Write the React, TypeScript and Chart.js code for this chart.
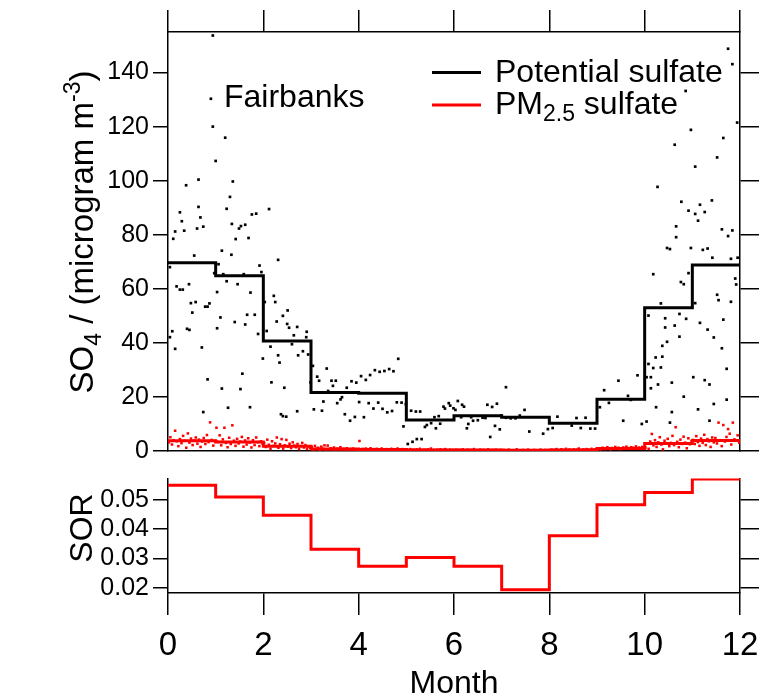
import React, { useEffect, useRef } from "react";
import { Chart, registerables } from "chart.js";

Chart.register(...registerables);

const FONT = "'Liberation Sans', Arial, Helvetica, sans-serif";

// ---------- data ----------
const monthEdges = [0, 1, 2, 3, 4, 5, 6, 7, 8, 9, 10, 11, 12];
const xTickValues = [0, 2, 4, 6, 8, 10, 12];
const so4TickValues = [0, 20, 40, 60, 80, 100, 120, 140];
const sorTickValues = [0.02, 0.03, 0.04, 0.05];

// monthly means (step lines)
const potentialMonthly = [69.6, 64.8, 40.7, 21.6, 21.4, 11.5, 13.0, 12.5, 10.3, 19.1, 53.0, 68.8];
const pmMonthly = [3.8, 3.3, 1.8, 0.73, 0.6, 0.36, 0.36, 0.25, 0.4, 0.94, 2.8, 3.9];
const sorMonthly = [0.0549, 0.0509, 0.0447, 0.0331, 0.0273, 0.0303, 0.0273, 0.0193, 0.0377, 0.0483, 0.0524, 0.057];

// daily potential sulfate [month, value]
const potentialJanMar = [
  [0.94,153.7],[0.90,130.3],[0.94,120.0],[1.20,115.9],[1.00,107.3],[0.38,98.3],[0.64,100.4],[1.36,99.7],[1.30,94.0],[0.25,88.3],
  [0.64,90.3],[1.23,89.6],[2.12,89.5],[1.76,87.5],[1.85,87.8],[0.29,85.0],[0.68,86.4],[0.15,81.2],[0.34,81.5],[0.61,82.3],
  [0.74,83.0],[1.34,84.0],[1.49,82.3],[1.53,83.2],[1.62,83.7],[0.11,78.5],[1.42,78.4],[1.69,78.8],[0.55,72.3],[1.13,74.1],
  [1.33,72.6],[2.31,70.7],[0.04,68.0],[1.06,69.1],[0.97,65.8],[1.16,65.4],[1.59,65.4],[1.92,68.6],[1.96,66.2],[1.23,62.8],
  [1.46,61.7],[0.44,61.7],[0.18,60.9],[0.25,59.7],[0.31,59.7],[1.03,58.8],[1.73,58.6],[0.48,54.7],[0.58,55.1],[0.87,54.6],
  [0.83,53.4],[0.78,53.4],[2.03,55.1],[2.22,57.4],[2.25,55.1],[0.51,51.2],[1.10,49.4],[1.66,50.4],[1.82,50.4],[1.40,47.7],
  [1.62,46.8],[2.41,50.0],[2.51,52.0],[2.28,47.9],[2.50,47.0],[2.54,45.6],[2.71,45.9],[0.09,44.3],[0.04,42.1],[0.40,45.2],
  [0.45,44.8],[1.03,45.4],[1.89,43.3],[2.07,44.4],[2.64,42.8],[2.91,44.1],[2.90,42.1],[0.15,37.8],[0.71,38.3],[2.15,38.6],
  [2.60,39.5],[2.83,36.9],[2.73,35.4],[2.94,35.7],[2.31,35.4],[1.99,34.2],[2.34,32.7],[1.56,28.6],[0.83,26.5],[2.17,25.4],
  [2.99,25.4],[1.13,23.1],[1.52,22.9],[2.44,23.4],[1.26,16.0],[1.72,16.2],[0.74,14.4],[2.71,14.7],[2.37,13.6],[2.41,12.9],
  [2.48,12.7],
];
const potentialAprSep = [
  [3.04,31.5],[3.06,15.4],[3.13,27.5],[3.17,26.0],[3.33,30.5],[3.43,26.0],[3.52,26.0],[3.46,24.1],[3.23,14.9],[3.26,18.3],
  [3.36,22.2],[3.55,17.7],[3.62,19.1],[3.65,19.9],[3.71,13.6],[3.82,11.2],[3.92,12.6],[3.75,23.4],[3.85,25.8],[3.95,25.3],
  [4.05,27.7],[4.15,26.3],[4.24,28.1],[4.34,29.9],[4.44,29.3],[4.54,29.6],[4.64,30.3],[4.73,29.5],[4.83,34.1],[4.01,18.1],
  [4.11,12.5],[4.21,17.7],[4.31,15.7],[4.41,17.9],[4.50,15.6],[4.60,14.3],[4.70,14.8],[4.80,18.0],[4.90,17.9],[4.99,17.3],
  [4.94,9.1],[5.03,2.6],[5.13,3.4],[5.22,4.4],[5.32,4.4],[5.10,14.9],[5.20,14.6],[5.29,14.6],[5.39,8.9],[5.43,9.6],
  [5.52,10.3],[5.62,8.4],[5.59,12.5],[5.68,12.9],[5.71,10.1],[5.78,16.4],[5.81,15.7],[5.89,17.7],[5.92,16.8],[5.99,15.8],
  [6.03,15.2],[6.08,18.5],[6.17,17.1],[6.21,16.4],[6.15,12.5],[6.30,10.0],[6.27,8.4],[6.36,12.5],[6.40,11.2],[6.50,11.4],
  [6.60,12.3],[6.66,12.2],[6.70,17.1],[6.80,16.3],[6.90,17.5],[6.76,5.2],[6.86,9.3],[6.96,8.0],[7.09,23.6],[6.99,13.1],
  [7.09,12.3],[7.19,12.1],[7.29,12.1],[7.38,13.1],[7.48,15.2],[7.58,7.2],[7.87,6.4],[7.97,8.1],[8.07,8.5],[8.17,12.7],
  [8.47,9.4],[8.57,12.2],[8.66,8.5],[8.76,12.3],[8.86,8.3],[8.96,8.3],
];
const potentialOctDec = [
  [9.06,16.2],[9.15,22.5],[9.25,17.8],[9.45,26.0],[9.55,11.2],[9.65,20.4],[9.71,18.9],[9.85,28.0],[9.94,10.0],[10.04,10.9],
  [10.04,27.3],[10.13,27.3],[10.13,23.2],[10.08,32.2],[10.18,30.7],[10.08,50.1],[10.18,65.4],[10.23,34.6],[10.37,38.9],[10.37,34.9],
  [10.34,54.6],[10.34,30.9],[10.28,24.6],[10.24,16.2],[10.43,49.1],[10.43,45.7],[10.47,40.4],[10.47,75.1],[10.53,74.7],[10.57,25.3],
  [10.57,14.4],[10.53,10.5],[10.63,46.4],[10.73,50.7],[10.73,42.3],[10.87,48.9],[10.76,62.5],[10.82,61.7],[10.92,65.8],[10.97,75.1],
  [10.82,20.1],[11.02,27.3],[11.12,15.4],[11.06,54.7],[11.16,47.4],[11.22,74.4],[11.32,74.9],[11.42,71.5],[11.26,26.2],[11.36,24.6],
  [11.32,44.9],[11.45,42.0],[11.36,11.2],[11.45,17.4],[11.52,57.8],[11.55,55.8],[11.65,48.6],[11.62,38.0],[11.72,30.4],[11.72,19.0],
  [11.81,71.1],[11.95,71.5],[11.81,55.2],[11.90,63.8],[11.92,61.6],[11.75,148.8],[11.84,143.1],[10.86,133.2],[11.94,121.5],[10.97,118.8],
  [11.65,115.8],[10.63,113.3],[11.52,108.6],[11.06,105.2],[10.27,97.7],[10.77,92.2],[11.41,92.7],[11.16,91.1],[10.92,88.9],[11.06,87.7],
  [11.26,88.4],[11.12,85.2],[10.66,83.1],[10.66,79.1],[11.62,82.0],[11.75,79.5],[11.84,81.6],
];

// daily PM2.5 sulfate, ~30 samples per month
const pmJan = [3.2,5.1,2.4,4.0,7.5,3.6,1.8,4.4,2.9,5.6,3.8,1.2,6.5,3.1,4.6,2.2,3.9,5.0,2.7,4.2,1.5,3.5,4.8,2.6,5.9,3.3,10.6,4.1,2.0,3.7];
const pmFeb = [8.6,3.4,5.8,2.1,4.3,8.6,3.0,1.4,4.9,2.6,9.5,3.8,1.9,4.5,2.8,3.5,5.2,1.6,3.9,2.4,4.7,3.1,1.3,4.0,2.2,5.0,3.3,1.8,3.6,2.7];
const pmMar = [3.0,1.5,4.2,2.3,0.8,3.6,1.9,2.8,5.0,1.2,2.5,4.4,0.9,2.1,4.1,1.6,2.7,1.1,3.2,2.0,1.4,2.6,0.7,1.8,3.0,1.3,2.2,0.8,1.7,1.2];
const pmApr = [1.5,0.6,1.9,0.9,1.2,0.4,1.6,0.8,2.1,0.5,2.0,0.7,1.0,0.6,1.3,0.4,0.9,0.6,1.4,0.3,0.8,0.5,1.0,0.4,0.7,0.5,0.9,0.3,0.6,0.5];
const pmMay = [3.7,0.5,0.8,0.4,0.9,0.6,0.3,1.0,0.5,0.7,0.4,0.8,0.6,0.3,0.9,0.5,0.4,0.7,0.6,0.3,0.8,0.5,0.4,0.6,0.9,0.3,0.5,0.7,0.4,0.6];
const pmJun = [0.4,0.2,0.7,0.3,0.5,0.1,0.6,0.3,0.8,0.2,0.4,0.5,0.2,0.6,0.3,0.9,0.2,0.4,0.1,0.5,0.3,0.6,0.2,0.4,0.7,0.3,0.1,0.5,0.3,0.4];
const pmJul = [0.3,0.5,0.1,0.4,0.2,0.6,0.3,0.2,0.5,0.1,0.4,0.3,0.7,0.2,0.3,0.1,0.5,0.2,0.4,0.3,0.1,0.6,0.2,0.3,0.4,0.1,0.5,0.2,0.3,0.4];
const pmAug = [0.2,0.4,0.1,0.3,0.5,0.2,0.1,0.3,0.2,0.6,0.1,0.3,0.2,0.4,0.1,0.2,0.5,0.3,0.1,0.2,0.4,0.2,0.3,0.1,0.5,0.2,0.3,0.4,0.1,0.3];
const pmSep = [0.3,0.5,0.2,0.4,0.7,0.3,0.2,0.6,0.4,0.3,0.8,0.2,0.5,0.4,0.3,0.6,0.2,0.5,0.9,0.3,0.4,0.6,0.2,0.7,0.5,0.3,0.8,0.4,0.6,0.5];
const pmOct = [0.5,0.9,0.6,1.2,0.8,0.7,1.4,1.0,0.6,1.1,0.9,1.5,0.8,1.2,0.7,1.0,1.3,0.9,1.6,1.1,0.8,1.4,1.2,0.9,1.7,1.0,1.3,0.8,1.5,1.1];
const pmNov = [1.2,2.8,0.8,3.5,6.3,2.1,4.0,1.5,3.2,5.1,2.4,0.6,3.8,2.9,4.5,1.8,3.0,5.6,2.2,8.8,3.4,1.4,4.2,2.6,5.3,3.1,1.0,4.7,2.5,3.6];
const pmDec = [4.1,2.6,5.5,3.3,1.9,4.6,3.0,6.0,2.2,4.4,3.6,1.5,5.0,3.2,4.8,2.8,10.5,4.0,1.8,9.6,3.5,5.2,8.1,6.4,2.4,10.5,4.3,3.8,5.8,3.1];
const pmByMonth = [pmJan, pmFeb, pmMar, pmApr, pmMay, pmJun, pmJul, pmAug, pmSep, pmOct, pmNov, pmDec];

// ---------- helpers ----------
const stepPoints = (vals: number[]) =>
  monthEdges.map((m, i) => ({ x: m, y: vals[Math.min(i, vals.length - 1)] }));

const pairPoints = (arr: number[][]) => arr.map(([x, y]) => ({ x, y }));

const pmPoints = () => {
  const out: { x: number; y: number }[] = [];
  pmByMonth.forEach((vals, m) => {
    vals.forEach((v, j) => out.push({ x: m + (j + 0.5) / vals.length, y: v }));
  });
  return out;
};

const tickGrid = (len: number) => ({
  display: true,
  drawOnChartArea: false,
  drawTicks: true,
  tickLength: len,
  color: "#000",
  lineWidth: 1.5,
});
const axisBorder = { display: true, color: "#000", width: 1.5 };
const fixTicks = (vals: number[]) => (s: any) => {
  s.ticks = vals.map((v) => ({ value: v }));
};
const fitBox = (w: number | null, h: number | null) => (s: any) => {
  if (w !== null) s.width = w;
  if (h !== null) s.height = h;
  s.paddingLeft = 0;
  s.paddingRight = 0;
  s.paddingTop = 0;
  s.paddingBottom = 0;
};

type Part = { t: string; size: number; dy: number };
function drawRotated(ctx: CanvasRenderingContext2D, parts: Part[], x: number, yCenter: number) {
  ctx.save();
  ctx.translate(x, yCenter);
  ctx.rotate(-Math.PI / 2);
  ctx.fillStyle = "#000";
  ctx.textBaseline = "alphabetic";
  ctx.textAlign = "left";
  let total = 0;
  parts.forEach((p) => {
    ctx.font = `${p.size}px ${FONT}`;
    total += ctx.measureText(p.t).width;
  });
  let u = -total / 2;
  parts.forEach((p) => {
    ctx.font = `${p.size}px ${FONT}`;
    ctx.fillText(p.t, u, p.dy);
    u += ctx.measureText(p.t).width;
  });
  ctx.restore();
}

function drawParts(ctx: CanvasRenderingContext2D, parts: Part[], x: number, y: number) {
  ctx.save();
  ctx.fillStyle = "#000";
  ctx.textBaseline = "alphabetic";
  ctx.textAlign = "left";
  let u = x;
  parts.forEach((p) => {
    ctx.font = `${p.size}px ${FONT}`;
    ctx.fillText(p.t, u, y + p.dy);
    u += ctx.measureText(p.t).width;
  });
  ctx.restore();
}

const topTextPlugin = {
  id: "topText",
  afterDraw(chart: any) {
    const ctx = chart.ctx as CanvasRenderingContext2D;
    // y-axis title
    drawRotated(
      ctx,
      [
        { t: "SO", size: 33, dy: 0 },
        { t: "4", size: 23, dy: 8 },
        { t: " / (microgram m", size: 33, dy: 0 },
        { t: "-3", size: 23, dy: -13 },
        { t: ")", size: 33, dy: 0 },
      ],
      93,
      232
    );
    // station name
    drawParts(ctx, [{ t: "Fairbanks", size: 32, dy: 0 }], 224, 106.5);
    // legend
    ctx.save();
    ctx.lineWidth = 3;
    ctx.strokeStyle = "#000";
    ctx.beginPath();
    ctx.moveTo(432, 72.5);
    ctx.lineTo(481, 72.5);
    ctx.stroke();
    ctx.strokeStyle = "#ff0000";
    ctx.beginPath();
    ctx.moveTo(432, 105);
    ctx.lineTo(481, 105);
    ctx.stroke();
    ctx.restore();
    drawParts(ctx, [{ t: "Potential sulfate", size: 32, dy: 0 }], 495, 81.5);
    drawParts(
      ctx,
      [
        { t: "PM", size: 32, dy: 0 },
        { t: "2.5", size: 23, dy: 7 },
        { t: " sulfate", size: 32, dy: 0 },
      ],
      495,
      113.5
    );
  },
};

const bottomTextPlugin = {
  id: "bottomText",
  afterDraw(chart: any) {
    const ctx = chart.ctx as CanvasRenderingContext2D;
    drawRotated(ctx, [{ t: "SOR", size: 32, dy: 0 }], 92, 68);
  },
};

export default function App() {
  const topRef = useRef<HTMLCanvasElement | null>(null);
  const botRef = useRef<HTMLCanvasElement | null>(null);

  useEffect(() => {
    Chart.defaults.font.family = FONT;
    Chart.defaults.color = "#000";

    const top = new Chart(topRef.current as HTMLCanvasElement, {
      type: "scatter",
      data: {
        datasets: [
          {
            type: "line",
            label: "Potential sulfate",
            data: stepPoints(potentialMonthly),
            borderColor: "#000",
            borderWidth: 3,
            stepped: "before",
            pointRadius: 0,
            fill: false,
            order: 0,
          } as any,
          {
            type: "line",
            label: "PM2.5 sulfate",
            data: stepPoints(pmMonthly),
            borderColor: "#ff0000",
            borderWidth: 3,
            stepped: "before",
            pointRadius: 0,
            fill: false,
            order: 1,
          } as any,
          {
            label: "PM2.5 daily",
            data: pmPoints(),
            pointStyle: "rect",
            pointRadius: 1.8,
            backgroundColor: "#ff0000",
            borderWidth: 0,
            order: 2,
          },
          {
            label: "Potential daily",
            data: [
              ...pairPoints(potentialJanMar),
              ...pairPoints(potentialAprSep),
              ...pairPoints(potentialOctDec),
            ],
            pointStyle: "rect",
            pointRadius: 1.9,
            backgroundColor: "#000",
            borderWidth: 0,
            order: 3,
          },
        ],
      },
      options: {
        responsive: false,
        animation: false,
        layout: { padding: 0 },
        plugins: { legend: { display: false }, tooltip: { enabled: false } },
        scales: {
          x: {
            type: "linear",
            position: "bottom",
            min: 0,
            max: 12,
            ticks: { display: false },
            grid: { display: false },
            border: axisBorder,
            afterFit: fitBox(null, 9),
          },
          xTop: {
            type: "linear",
            position: "top",
            min: 0,
            max: 12,
            afterBuildTicks: fixTicks(xTickValues),
            ticks: { display: false },
            grid: tickGrid(22),
            border: axisBorder,
            afterFit: fitBox(null, 32),
          },
          y: {
            type: "linear",
            position: "left",
            min: 0,
            max: 155,
            afterBuildTicks: fixTicks(so4TickValues),
            ticks: { font: { size: 25, family: FONT }, color: "#000", padding: 4 },
            grid: tickGrid(15),
            border: axisBorder,
            afterFit: fitBox(168, null),
          },
          yRight: {
            type: "linear",
            position: "right",
            min: 0,
            max: 155,
            afterBuildTicks: fixTicks(so4TickValues),
            ticks: { display: false },
            grid: tickGrid(19),
            border: axisBorder,
            afterFit: fitBox(26, null),
          },
        } as any,
      },
      plugins: [topTextPlugin],
    });

    const bottom = new Chart(botRef.current as HTMLCanvasElement, {
      type: "line",
      data: {
        datasets: [
          {
            label: "SOR",
            data: stepPoints(sorMonthly),
            borderColor: "#ff0000",
            borderWidth: 3,
            stepped: "before",
            pointRadius: 0,
            fill: false,
          } as any,
        ],
      },
      options: {
        responsive: false,
        animation: false,
        layout: { padding: { top: 18.5, left: 0, right: 0, bottom: 0 } },
        plugins: { legend: { display: false }, tooltip: { enabled: false } },
        scales: {
          x: {
            type: "linear",
            position: "bottom",
            min: 0,
            max: 12,
            afterBuildTicks: fixTicks(xTickValues),
            ticks: { font: { size: 33, family: FONT }, color: "#000", padding: 11, maxRotation: 0 },
            grid: tickGrid(22),
            border: axisBorder,
            title: {
              display: true,
              text: "Month",
              font: { size: 32, family: FONT, lineHeight: 0.85 },
              color: "#000",
              padding: { top: 0, bottom: 0 },
            },
            afterFit: fitBox(null, 105),
          },
          y: {
            type: "linear",
            position: "left",
            min: 0.0182,
            max: 0.0572,
            afterBuildTicks: fixTicks(sorTickValues),
            ticks: {
              font: { size: 25, family: FONT },
              color: "#000",
              padding: 4,
              callback: (v: any) => Number(v).toFixed(2),
            },
            grid: tickGrid(15),
            border: axisBorder,
            afterFit: fitBox(168, null),
          },
          yRight: {
            type: "linear",
            position: "right",
            min: 0.0182,
            max: 0.0572,
            afterBuildTicks: fixTicks(sorTickValues),
            ticks: { display: false },
            grid: tickGrid(19),
            border: axisBorder,
            afterFit: fitBox(26, null),
          },
        } as any,
      },
      plugins: [bottomTextPlugin],
    });

    return () => {
      top.destroy();
      bottom.destroy();
    };
  }, []);

  return (
    <div style={{ position: "absolute", left: 0, top: 0, width: 766, height: 698, background: "#fff" }}>
      <canvas
        ref={topRef}
        width={766}
        height={460}
        style={{ position: "absolute", left: 0, top: 0, width: 766, height: 460 }}
      />
      <canvas
        ref={botRef}
        width={766}
        height={238}
        style={{ position: "absolute", left: 0, top: 460, width: 766, height: 238 }}
      />
    </div>
  );
}
